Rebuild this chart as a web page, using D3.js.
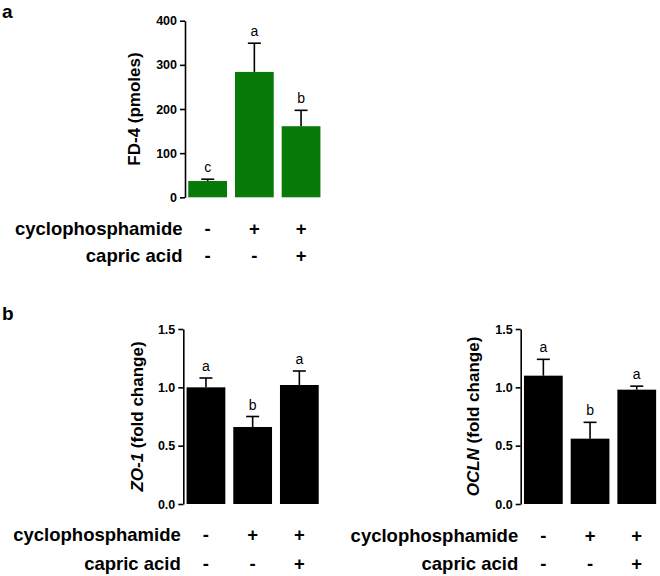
<!DOCTYPE html>
<html>
<head>
<meta charset="utf-8">
<script src="https://cdn.jsdelivr.net/npm/d3@7"></script>
<style>
  html, body { margin: 0; padding: 0; background: #fff; }
  svg { display: block; font-family: "Liberation Sans", Arial, Helvetica, sans-serif; }
</style>
</head>
<body>
<svg id="chart" width="660" height="576"></svg>
<script>
// ---- data ----
const groups = ["ctrl", "cyp", "cyp+ca"];
const cyclophosphamideSigns = ["-", "+", "+"];
const capricAcidSigns = ["-", "-", "+"];

const fd4Means = [37, 284, 161];
const fd4Errors = [4, 65, 36];
const fd4Letters = ["c", "a", "b"];
const fd4Ticks = [0, 100, 200, 300, 400];

const zo1Means = [1.0, 0.66, 1.02];
const zo1Errors = [0.08, 0.09, 0.12];
const zo1Letters = ["a", "b", "a"];

const oclnMeans = [1.10, 0.56, 0.98];
const oclnErrors = [0.14, 0.14, 0.03];
const oclnLetters = ["a", "b", "a"];

const foldTicks = [0, 0.5, 1.0, 1.5];

const svg = d3.select("#chart");

function panel(opts) {
  const g = svg.append("g");
  const x = d3.scaleBand().domain(groups)
    .range([opts.x0, opts.x0 + 138.7]).paddingInner(0.17).paddingOuter(0.07);
  const y = d3.scaleLinear().domain(opts.domain).range([opts.yBottom, opts.yTop]);

  // bars
  g.selectAll("rect.bar").data(opts.means).enter().append("rect")
    .attr("x", (d, i) => x(groups[i]))
    .attr("width", x.bandwidth())
    .attr("y", d => y(d))
    .attr("height", d => y(0) - y(d))
    .attr("fill", opts.color);

  // error bars (upper only)
  const cap = 6.5;
  opts.means.forEach((m, i) => {
    const cx = x(groups[i]) + x.bandwidth() / 2;
    const top = y(m + opts.errors[i]);
    g.append("line").attr("x1", cx).attr("x2", cx)
      .attr("y1", y(m)).attr("y2", top)
      .attr("stroke", "#000").attr("stroke-width", 1.6);
    g.append("line").attr("x1", cx - cap).attr("x2", cx + cap)
      .attr("y1", top).attr("y2", top)
      .attr("stroke", "#000").attr("stroke-width", 1.6);
    g.append("text").attr("x", cx).attr("y", top - 7)
      .attr("text-anchor", "middle").attr("font-size", 14)
      .attr("fill", "#000").text(opts.letters[i]);
  });

  // y axis
  const axis = d3.axisLeft(y).tickValues(opts.ticks).tickFormat(opts.fmt)
    .tickSize(5).tickSizeOuter(0).tickPadding(3);
  const ag = g.append("g").attr("transform", `translate(${opts.x0},0)`).call(axis);
  ag.select(".domain").attr("stroke", "#000").attr("stroke-width", 1.6);
  ag.selectAll(".tick line").attr("stroke", "#000").attr("stroke-width", 1.6);
  ag.selectAll(".tick text").attr("font-size", 12.5).attr("font-weight", "bold")
    .attr("fill", "#000").attr("font-family", "\"Liberation Sans\", Arial, sans-serif");

  // y title
  const tt = g.append("text")
    .attr("transform", `translate(${opts.titleX},${(opts.yTop + opts.yBottom) / 2}) rotate(-90)`)
    .attr("text-anchor", "middle").attr("dy", "0.35em")
    .attr("font-size", 17).attr("font-weight", "bold").attr("fill", "#000");
  opts.title.forEach(p => {
    tt.append("tspan").attr("font-style", p.italic ? "italic" : "normal").text(p.t);
  });

  // treatment rows
  const rows = [
    { label: "cyclophosphamide", signs: cyclophosphamideSigns, y: opts.row1 },
    { label: "capric acid", signs: capricAcidSigns, y: opts.row2 }
  ];
  rows.forEach(r => {
    g.append("text").attr("x", opts.x0 - 2.5).attr("y", r.y)
      .attr("text-anchor", "end").attr("font-size", 18.5).attr("font-weight", "bold")
      .attr("fill", "#000").text(r.label);
    r.signs.forEach((s, i) => {
      g.append("text").attr("x", x(groups[i]) + x.bandwidth() / 2).attr("y", r.y)
        .attr("text-anchor", "middle").attr("font-size", 18.5).attr("font-weight", "bold")
        .attr("fill", "#000").text(s);
    });
  });
}

panel({
  x0: 185, yTop: 20.7, yBottom: 197.3, domain: [0, 400],
  means: fd4Means, errors: fd4Errors, letters: fd4Letters,
  ticks: fd4Ticks, fmt: d3.format("d"), color: "#087a08",
  title: [{ t: "FD-4 (pmoles)", italic: false }], titleX: 134,
  row1: 235, row2: 262
});

panel({
  x0: 183.3, yTop: 329, yBottom: 504, domain: [0, 1.5],
  means: zo1Means, errors: zo1Errors, letters: zo1Letters,
  ticks: foldTicks, fmt: d3.format(".1f"), color: "#000",
  title: [{ t: "ZO-1", italic: true }, { t: " (fold change)", italic: false }], titleX: 137,
  row1: 541, row2: 569.5
});

panel({
  x0: 520.7, yTop: 329, yBottom: 504, domain: [0, 1.5],
  means: oclnMeans, errors: oclnErrors, letters: oclnLetters,
  ticks: foldTicks, fmt: d3.format(".1f"), color: "#000",
  title: [{ t: "OCLN", italic: true }, { t: " (fold change)", italic: false }], titleX: 473.5,
  row1: 541.5, row2: 569.5
});

// panel labels
svg.append("text").attr("x", 2).attr("y", 17.5).attr("font-size", 19)
  .attr("font-weight", "bold").attr("fill", "#000").text("a");
svg.append("text").attr("x", 2).attr("y", 320).attr("font-size", 19)
  .attr("font-weight", "bold").attr("fill", "#000").text("b");
</script>
</body>
</html>
